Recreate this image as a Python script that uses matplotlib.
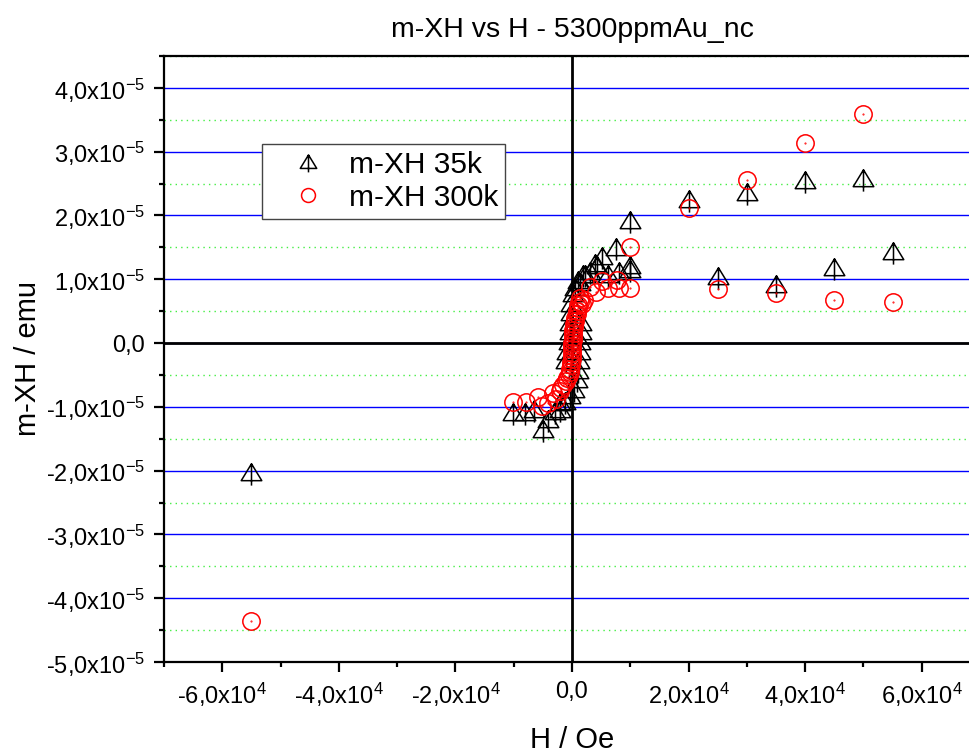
import numpy as np
import matplotlib
matplotlib.use("Agg")
import matplotlib.pyplot as plt
from matplotlib.path import Path
from matplotlib.ticker import MultipleLocator, FuncFormatter

plt.rcParams['font.family'] = ['Liberation Sans', 'DejaVu Sans']
plt.rcParams['mathtext.default'] = 'regular'

# m-XH at 35 K (H in Oe, m in 1e-5 emu)
h_35k = [-55000, -10100, -8000, -6600, -4900, -4100, -2900, -2100, -2100, -1200,
         -300, 400, 900, 1100, 1200, 1300, 1400, 1500, 1600,
         -1000, -800, -600, -400, -300, -200, -100, 100, 500, 1000,
         1400, 1900, 2200, 3100, 3900, 4300, 5100, 6200, 7500, 8000, 10000, 10000, 10000,
         20000, 25000, 30000, 35000, 40000, 45000, 50000, 55000]
m_35k = [-2.05, -1.11, -1.11, -1.07, -1.38, -1.22, -1.10, -1.07, -0.96, -0.94,
         -0.85, -0.75, -0.60, -0.45, -0.30, -0.15, 0.00, 0.15, 0.30,
         -0.30, -0.15, 0.00, 0.15, 0.30, 0.45, 0.60, 0.75, 0.85, 0.95,
         0.92, 1.05, 1.05, 1.10, 1.23, 1.20, 1.33, 1.05, 1.48, 1.10, 1.90, 1.20, 1.13,
         2.23, 1.02, 2.33, 0.89, 2.52, 1.16, 2.56, 1.41]

# m-XH at 300 K
h_300k = [-55000, -10100, -7900, -5800, -5100, -4100, -3200, -2700, -2100,
          -1900, -1100, -600, -300, -150, -50, 0, 50, 150, 250, 400, 600, 850, 1100, 1400,
          -1500, -800, -400, -200, -80, 30, 80, 150, 250, 380, 550, 800, 1050, 1400,
          1700, 2100, 3100, 4200, 5100, 6100, 7700, 8000, 10000, 10000,
          20000, 25000, 30000, 35000, 40000, 45000, 50000, 55000]
m_300k = [-4.36, -0.92, -0.93, -0.84, -0.98, -0.94, -0.78, -0.88, -0.75,
          -0.70, -0.60, -0.50, -0.40, -0.30, -0.20, -0.10, 0.00, 0.10, 0.20, 0.30, 0.40, 0.50, 0.60, 0.70,
          -0.65, -0.55, -0.45, -0.35, -0.25, -0.15, -0.05, 0.05, 0.15, 0.25, 0.35, 0.45, 0.55, 0.65,
          0.61, 0.68, 0.88, 0.80, 0.97, 0.86, 0.99, 0.87, 0.87, 1.50,
          2.12, 0.85, 2.55, 0.79, 3.13, 0.68, 3.59, 0.65]

title = "m-XH vs H - 5300ppmAu_nc"
xlab = "H / Oe"
ylab = "m-XH / emu"
labels = ["m-XH 35k", "m-XH 300k"]

# triangle with a stem, like the Origin symbol
tri_path = Path([(-0.5, -0.3), (0.5, -0.3), (0.0, 0.52), (-0.5, -0.3),
                 (0.0, 0.52), (0.0, -0.54)],
                [Path.MOVETO, Path.LINETO, Path.LINETO, Path.CLOSEPOLY,
                 Path.MOVETO, Path.LINETO])


def tick_fmt(exp):
    def f(v, pos):
        if abs(v) < 1e-20:
            return "0,0"
        m = v / 10.0 ** exp
        return ("%.1f" % m).replace(".", ",") + "x10$^{%d}$" % exp
    return f


fig = plt.figure(figsize=(9.69, 7.54), dpi=100)
ax = fig.add_axes([164 / 969, 1 - 662 / 754, (980 - 164) / 969, (662 - 56) / 754])

ax.axhline(0, color='black', lw=2, zorder=1)
ax.axvline(0, color='black', lw=2, zorder=1)

ax.plot(h_35k, np.array(m_35k) * 1e-5, ls='none', marker=tri_path, ms=16,
        mfc='none', mec='black', mew=1.1, label=labels[0], zorder=3)
ax.plot(h_300k, np.array(m_300k) * 1e-5, ls='none', marker='o', ms=12.5,
        mfc='none', mec='red', mew=1.1, label=labels[1], zorder=4)
ax.plot(h_300k, np.array(m_300k) * 1e-5, ls='none', marker='.', ms=1.0,
        color='red', zorder=5)

ax.set_xlim(-7e4, 7e4)
ax.set_ylim(-5e-5, 4.5e-5)
ax.xaxis.set_major_locator(MultipleLocator(2e4))
ax.xaxis.set_minor_locator(MultipleLocator(1e4))
ax.yaxis.set_major_locator(MultipleLocator(1e-5))
ax.yaxis.set_minor_locator(MultipleLocator(0.5e-5))
ax.xaxis.set_major_formatter(FuncFormatter(tick_fmt(4)))
ax.yaxis.set_major_formatter(FuncFormatter(tick_fmt(-5)))

ax.grid(True, which='major', axis='y', color='#0000ff', lw=1.0, ls='-')
ax.grid(True, which='minor', axis='y', color='#44ee44', lw=1.0, ls=(0, (1, 3)))
ax.set_axisbelow(True)

for s in ['left', 'bottom', 'top']:
    ax.spines[s].set_linewidth(1.6)
ax.spines['right'].set_visible(False)
ax.tick_params(which='major', direction='out', length=7.5, width=1.6, labelsize=17, pad=6)
ax.tick_params(which='minor', direction='out', length=3.8, width=1.6)
ax.tick_params(top=False, right=False, which='both')

ax.set_title(title, fontsize=20.5, pad=14)
ax.set_xlabel(xlab, fontsize=21)
ax.xaxis.set_label_coords((572 - 164) / 816, -(740 - 662) / 606)
ax.xaxis.label.set_va('center')
ax.set_ylabel(ylab, fontsize=21)
ax.yaxis.set_label_coords(-(164 - 28) / 816, 0.5)
ax.yaxis.label.set_va('center')

leg = ax.legend(loc='upper left', bbox_to_anchor=((262 - 164) / 816, (662 - 144) / 606),
                borderaxespad=0, fontsize=21.5, frameon=True, fancybox=False,
                edgecolor='#444444', framealpha=1, handlelength=2.6, handletextpad=0.05,
                borderpad=0.25, labelspacing=0.15, markerscale=0.8)
leg.get_frame().set_linewidth(1.0)

fig.savefig("out.png", dpi=100)
